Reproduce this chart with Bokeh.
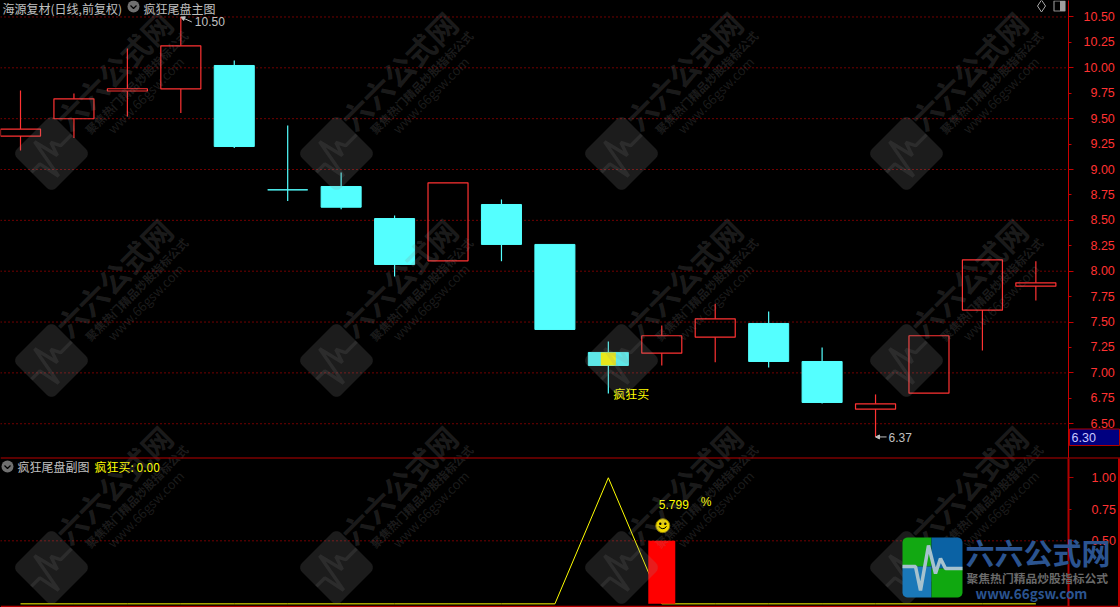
import numpy as np
from bokeh.core.properties import value
from bokeh.embed import file_html
from bokeh.layouts import column
from bokeh.models import (Arrow, FixedTicker, LinearAxis, NormalHead,
                          PrintfTickFormatter, Range1d, Span)
from bokeh.plotting import figure
from bokeh.resources import INLINE

# ---- data -----------------------------------------------------------------
opens = [9.329, 9.499, 9.772, 9.792, 10.023, 8.80, 8.833, 8.518, 8.102, 8.656,
         8.263, 7.201, 7.194, 7.351, 7.486, 7.112, 6.643, 6.800, 7.617, 7.853]
closes = [9.398, 9.695, 9.794, 10.216, 9.226, 8.80, 8.629, 8.066, 8.869, 8.263,
          7.427, 7.073, 7.365, 7.532, 7.112, 6.709, 6.696, 7.365, 8.112, 7.886]
highs = [9.777, 9.747, 10.190, 10.50, 10.072, 9.433, 8.970, 8.548, 8.869, 8.705,
         8.263, 7.309, 7.466, 7.679, 7.604, 7.250, 6.788, 7.365, 8.112, 8.097]
lows = [9.187, 9.310, 9.521, 9.556, 9.211, 8.690, 8.610, 7.948, 8.102, 8.098,
        7.427, 6.797, 7.073, 7.105, 7.053, 6.699, 6.37, 6.800, 7.220, 7.712]
signal = [0, 0, 0, 0, 0, 0, 0, 0, 0, 0, 0, 1, 0, 0, 0, 0, 0, 0, 0, 0]
bar_index = [12]
bar_value = [0.5]
buy_index = 11
main_ticks = [6.5, 6.75, 7.0, 7.25, 7.5, 7.75, 8.0, 8.25, 8.5, 8.75, 9.0, 9.25, 9.5, 9.75, 10.0, 10.25, 10.5]
main_grid = [6.5, 7.0, 7.5, 8.0, 8.5, 9.0, 9.5, 10.0, 10.5]
sub_ticks = [0.5, 0.75, 1.0]
sub_grid = [0.5]
title_stock = "海源复材(日线,前复权)"
title_main = "疯狂尾盘主图"
title_sub = "疯狂尾盘副图"
legend_sub = "疯狂买: 0.00"
buy_text = "疯狂买"
pct_value = "5.799"
pct_sign = "%"
cursor_price = "6.30"
wm_main = "六六公式网"
wm_slogan = "聚焦热门精品炒股指标公式"
wm_site = "www.66gsw.com"
wm_x = [51, 336, 621, 906]
wm_y = [153, 360, 567]

# ---- layout constants ------------------------------------------------------
FRAME_W, MAIN_H, SUB_H = 1068, 458, 148
STEP = 53.44
X0 = 20.0
HEAD_Y = 7.5
CJK = value("Noto Sans CJK SC")
NUM = value("Liberation Sans")
RED, CYAN, YEL, GREY = "#FF3232", "#54FFFF", "#FFFF00", "#C0C0C0"

x_range = Range1d(-X0 / STEP, (FRAME_W - X0) / STEP)
main_range = Range1d(6.158, 10.662)
sub_range = Range1d(-0.021, 1.153)


def make(height, total_h, yr, ticks, minor, line_w, line_col, standoff, overrides):
    p = figure(width=1120, height=total_h, frame_width=FRAME_W, frame_height=height,
               x_range=x_range, y_range=yr, x_axis_location=None, y_axis_location=None,
               output_backend="svg", toolbar_location=None, background_fill_color="black",
               border_fill_color="black", outline_line_color=None,
               min_border=0, min_border_left=0, min_border_top=0, min_border_bottom=total_h - height,
               min_border_right=52)
    ax = LinearAxis(ticker=FixedTicker(ticks=ticks, minor_ticks=minor),
                    formatter=PrintfTickFormatter(format="%.2f"))
    ax.axis_line_color = line_col
    ax.axis_line_width = line_w
    ax.major_tick_line_color = line_col
    ax.minor_tick_line_color = line_col
    ax.major_tick_in = 0
    ax.major_tick_out = 3
    ax.minor_tick_in = 0
    ax.minor_tick_out = 5
    ax.major_label_standoff = standoff
    ax.major_label_overrides = overrides
    ax.major_label_text_color = RED
    ax.major_label_text_font = "Liberation Sans"
    ax.major_label_text_font_size = "12.5px"
    p.add_layout(ax, "right")
    p.xgrid.visible = False
    p.ygrid.visible = False
    return p


main_over = {t: ("\u2007%.2f" % t if t < 10 else "%.2f" % t) for t in main_ticks}
main = make(MAIN_H, MAIN_H, main_range, main_ticks, main_grid, 1, "#C80000", 10, main_over)
sub = make(SUB_H, 149, sub_range, sub_ticks, [1.0, 0.5], 2, "#B00000", 18, {})
for f, g in ((main, main_grid), (sub, sub_grid)):
    for v in g:
        f.add_layout(Span(location=v, dimension="width", line_color="#E00000", line_width=1,
                          line_dash="1 3", level="underlay"))

# px -> data helpers, for header decoration only
dx = lambda px: (np.asarray(px, float) - X0) / STEP
main_y = lambda py: main_range.end - np.asarray(py, float) * (main_range.end - main_range.start) / MAIN_H
sub_y = lambda py: sub_range.end - (np.asarray(py, float) - MAIN_H) * (sub_range.end - sub_range.start) / SUB_H
px_x = 1 / STEP
px_sub = (sub_range.end - sub_range.start) / SUB_H
px_main = (main_range.end - main_range.start) / MAIN_H

# ---- candles ----------------------------------------------------------------
idx = np.arange(len(opens))
o, c, h, l = map(np.array, (opens, closes, highs, lows))
up = c > o
top, bot = np.maximum(o, c), np.minimum(o, c)
for mask, col in ((up, RED), (~up, CYAN)):
    i = idx[mask]
    main.segment(i, h[mask], i, top[mask], line_color=col, line_width=1.2)
    main.segment(i, bot[mask], i, l[mask], line_color=col, line_width=1.2)
main.vbar(idx[up], width=0.749, bottom=bot[up], top=top[up], fill_alpha=0, line_color=RED, line_width=1.2)
main.vbar(idx[~up], width=0.749, bottom=bot[~up], top=top[~up], fill_color=CYAN, line_color=CYAN, line_width=1)
main.vbar([buy_index], width=0.28, bottom=[bot[buy_index]], top=[top[buy_index]], fill_color=YEL, line_color=YEL, line_width=0)
main.text([buy_index], [lows[buy_index]], text=[buy_text], x_offset=5, text_color=YEL, text_font=CJK,
          text_font_size="12px", text_baseline="middle")

imax, imin = int(np.argmax(h)), int(np.argmin(l))
main.text([imax], [h[imax]], text=["%.2f" % h[imax]], x_offset=14, y_offset=5, text_color=GREY, text_font=NUM,
          text_font_size="12px", text_baseline="middle")
main.text([imin], [l[imin]], text=["%.2f" % l[imin]], x_offset=13, y_offset=1, text_color=GREY, text_font=NUM,
          text_font_size="12px", text_baseline="middle")
main.add_layout(Arrow(end=NormalHead(size=4, fill_color=GREY, line_color=GREY), line_color=GREY, line_width=1,
                      x_start=imax + 11 * px_x, y_start=h[imax] - 5 * px_main, x_end=imax, y_end=h[imax]))
main.add_layout(Arrow(end=NormalHead(size=4, fill_color=GREY, line_color=GREY), line_color=GREY, line_width=1,
                      x_start=imin + 11 * px_x, y_start=l[imin], x_end=imin, y_end=l[imin]))

# ---- sub panel ---------------------------------------------------------------
sub.line(idx, signal, line_color=YEL, line_width=1)
sub.vbar(bar_index, width=0.505, bottom=0, top=bar_value, fill_color="#FF0000", line_color=None)
sub.text(bar_index, [0.792], text=[pct_value], x_offset=-3, text_color=YEL, text_font=NUM, text_font_size="12px",
         text_baseline="middle")
sub.text(bar_index, [0.81], text=[pct_sign], x_offset=39, text_color=YEL, text_font=NUM, text_font_size="12px",
         text_baseline="middle")
sm_x, sm_y = bar_index[0] + 1 * px_x, 0.62
sub.scatter([sm_x], [sm_y], size=14, marker="circle", fill_color="#F0D800", line_color="#8a7a00", line_width=1)
sub.scatter([sm_x - 2.5 * px_x, sm_x + 2.5 * px_x], [sm_y + 2 * px_sub] * 2, size=2.5, marker="circle",
            fill_color="black", line_color=None)
sub.arc([sm_x], [sm_y + 1 * px_sub], radius=4, radius_units="screen", start_angle=3.54, end_angle=5.88,
        line_color="black", line_width=1)

# ---- headers and icons ---------------------------------------------------------
main.text(dx([2]), main_y([HEAD_Y]), text=[title_stock], text_color=GREY, text_font=CJK, text_font_size="12px", text_baseline="middle")
main.text(dx([143]), main_y([HEAD_Y]), text=[title_main], text_color=GREY, text_font=CJK, text_font_size="12px", text_baseline="middle")
sub.text(dx([17]), sub_y([466]), text=[title_sub], text_color=GREY, text_font=CJK, text_font_size="12px", text_baseline="middle")
sub.text(dx([94]), sub_y([466]), text=[legend_sub], text_color=YEL, text_font=CJK, text_font_size="12px", text_baseline="middle")
for f, yf, ix, iy in ((main, main_y, 133, 6), (sub, sub_y, 7, 466)):
    f.scatter(dx([ix]), yf([iy]), size=12, marker="circle", fill_color="#707070", line_color=None)
    f.line(dx([ix - 3, ix, ix + 3]), yf([iy - 1, iy + 2, iy - 1]), line_color="black", line_width=1.2)
main.scatter(dx([1041]), main_y([5.5]), size=12, marker="diamond", fill_alpha=0, line_color="#A8A8A8", line_width=1)
main.quad(left=dx([1053.5]), right=dx([1064.5]), top=main_y([0.5]), bottom=main_y([10.5]), fill_alpha=0, line_color="#8c8c8c", line_width=1.2)
main.quad(left=dx([1059.5]), right=dx([1064.5]), top=main_y([0.5]), bottom=main_y([10.5]), fill_color="#a0a0a0", line_color=None)

# ---- transparent page-sized overlay: watermark, logo, panel borders, cursor box ---
over = figure(width=1120, height=607, frame_width=1120, frame_height=607, x_range=Range1d(0, 1120), y_range=Range1d(607, 0),
              x_axis_location=None, y_axis_location=None, output_backend="svg", toolbar_location=None,
              background_fill_color=None, border_fill_color=None, outline_line_color=None, min_border=0,
              margin=(-607, 0, 0, 0))
over.xgrid.visible = False
over.ygrid.visible = False


def rounded(size=60.0, r=5.0):
    t = np.linspace(0, np.pi / 2, 6)
    pts = []
    for cx, cy, a in ((size - r, r, -np.pi / 2), (size - r, size - r, 0), (r, size - r, np.pi / 2), (r, r, np.pi)):
        pts += [(cx + r * np.cos(a + q), cy + r * np.sin(a + q)) for q in t]
    return np.array(pts)


HEART = np.array([[0, 29], [13, 29], [18, 53], [26, 8], [33, 36], [38, 21], [43, 31], [60, 31]], float)


def spin(pts, cx, cy, scale):
    u = (pts - 30.0) * scale
    k = np.sqrt(0.5)
    return cx + k * (u[:, 0] + u[:, 1]), cy + k * (-u[:, 0] + u[:, 1])


wm_col, wm_alpha = "#8c8c8c", 0.2
for wx in wm_x:
    for wy in wm_y:
        xs, ys = spin(rounded(r=7), wx, wy, 0.92)
        over.patch(xs, ys, fill_color=wm_col, fill_alpha=wm_alpha, line_color=None)
        xs, ys = spin(HEART, wx, wy, 0.92)
        over.line(xs, ys, line_color=wm_col, line_alpha=0.14, line_width=3.5)
        for txt, ox, oy, size, bold in ((wm_main, 62, -83, "30px", "bold"), (wm_slogan, 85, -71, "11.6px", "bold"),
                                        (wm_site, 94, -58.5, "13px", "normal")):
            over.text([wx + ox], [wy + oy], text=[txt], angle=np.pi / 4, text_color=wm_col, text_alpha=wm_alpha,
                      text_font=CJK, text_font_size=size, text_font_style=bold, text_align="center", text_baseline="middle")

# panel borders
over.segment([0, 0, 1118.5], [457.5, 606, 458], [1120, 1120, 1118.5], [457.5, 606, 606],
             line_color="#B80000", line_width=[1.2, 1.6, 2])

# cursor price box
over.quad(left=[1069], right=[1119], top=[428.5], bottom=[445], fill_color="#000080", line_color="#B00000", line_width=1)
over.text([1071], [436.5], text=[cursor_price], text_color="#C8C8FF", text_font=NUM, text_font_size="12.5px", text_baseline="middle")

# bottom-right logo
LX, LY = 902, 537
base = rounded() + [LX, LY]
for (x0, x1, y0, y1, col) in ((0, 29, 0, 29, "#12A812"), (29, 60, 0, 31, "#0B62A4"),
                              (0, 29, 29, 60, "#1A78B8"), (29, 60, 31, 60, "#10A810")):
    over.patch(np.clip(base[:, 0], LX + x0, LX + x1), np.clip(base[:, 1], LY + y0, LY + y1), fill_color=col, line_color=None)
over.line(HEART[:, 0] + LX, HEART[:, 1] + LY, line_color="#A6C2CE", line_width=3.5)
for txt, x, y, size, col, sty in ((wm_main, 965, 551, "29px", "#2B5490", "bold"), (wm_slogan, 966, 577, "11.8px", "#6a6a6a", "bold"),
                                  (wm_site, 975, 592.5, "13.5px", "#2B5490", "bold")):
    over.text([x], [y], text=[txt], text_color=col, text_font=CJK, text_font_size=size, text_font_style=sty, text_baseline="middle")

page = column(main, sub, over, spacing=0, styles={"background-color": "black"})
open("out.html", "w").write(file_html(page, INLINE))
